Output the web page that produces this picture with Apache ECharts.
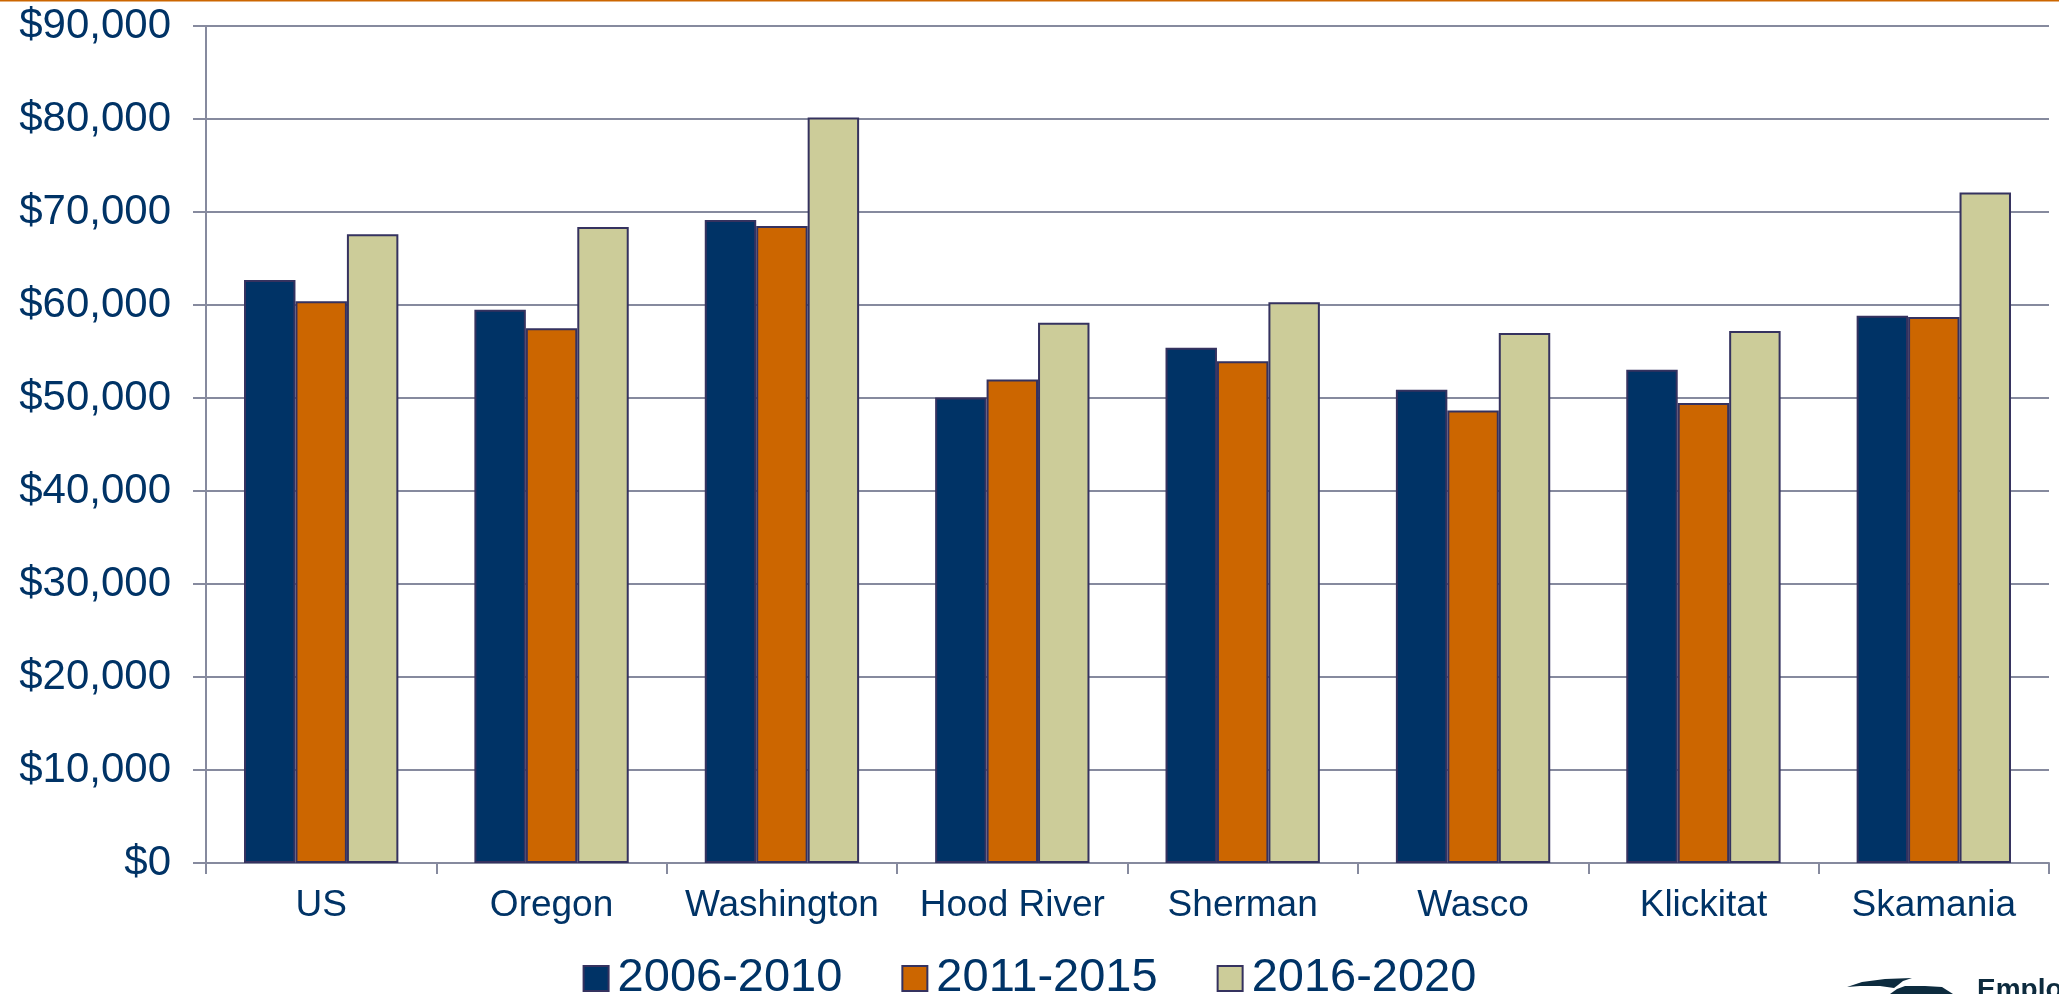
<!DOCTYPE html>
<html>
<head>
<meta charset="utf-8">
<script src="https://cdn.jsdelivr.net/npm/echarts@6/dist/echarts.min.js"></script>
<style>
  html, body { margin: 0; padding: 0; background: #ffffff; }
  #chart { width: 2059px; height: 994px; }
</style>
</head>
<body>
<div id="chart"></div>
<script>
const categories = ['US', 'Oregon', 'Washington', 'Hood River', 'Sherman', 'Wasco', 'Klickitat', 'Skamania'];
const seriesNames = ['2006-2010', '2011-2015', '2016-2020'];
const values2006_2010 = [62700, 59500, 69150, 50050, 55400, 50900, 53050, 58850];
const values2011_2015 = [60400, 57500, 68500, 52000, 53950, 48650, 49450, 58700];
const values2016_2020 = [67600, 68400, 80150, 58100, 60300, 57000, 57200, 72100];
const yTicks = { min: 0, max: 90000, interval: 10000 };

const colors = ['#003366', '#cc6600', '#cccc99'];
const textColor = '#003366';
const gridColor = '#868a9e';
const font = 'Liberation Sans, Arial, sans-serif';

const chart = echarts.init(document.getElementById('chart'));
const allValues = [values2006_2010, values2011_2015, values2016_2020];

chart.setOption({
  animation: false,
  backgroundColor: '#ffffff',
  grid: { left: 206, right: 10, top: 26, bottom: 131, containLabel: false },
  legend: {
    show: true,
    data: seriesNames,
    left: 'center',
    top: 950,
    itemWidth: 25,
    itemHeight: 25,
    itemGap: 59,
    icon: 'rect',
    textStyle: { color: textColor, fontSize: 47, fontFamily: font, padding: [0, 0, 0, 4] }
  },
  xAxis: {
    type: 'category',
    data: categories,
    boundaryGap: true,
    axisLine: { show: true, lineStyle: { color: gridColor, width: 2 } },
    axisTick: { show: true, length: 11, interval: 0, lineStyle: { color: gridColor, width: 2 } },
    axisLabel: { color: textColor, fontSize: 37, fontFamily: font, margin: 24, interval: 0 },
    splitLine: { show: false }
  },
  yAxis: {
    type: 'value',
    min: yTicks.min,
    max: yTicks.max,
    interval: yTicks.interval,
    axisLine: { show: true, lineStyle: { color: gridColor, width: 2 } },
    axisTick: { show: true, length: 13, lineStyle: { color: gridColor, width: 2 } },
    axisLabel: {
      color: textColor, fontSize: 42, fontFamily: font, margin: 35,
      formatter: v => '$' + v.toLocaleString('en-US')
    },
    splitLine: { show: true, lineStyle: { color: gridColor, width: 2 } }
  },
  series: seriesNames.map((name, i) => ({
    name: name,
    type: 'bar',
    data: allValues[i],
    barGap: '0%',
    barCategoryGap: '33%',
    itemStyle: { color: colors[i], borderColor: '#35325f', borderWidth: 2 }
  })),
  graphic: [
    { type: 'rect', left: 0, top: 0, shape: { width: 2059, height: 1.5 }, style: { fill: '#cc6600' }, silent: true },
    { type: 'polygon', shape: { points: [[1847,987],[1862,982],[1885,979],[1912,978],[1903,981],[1898,985],[1894,988],[1880,986],[1860,986]] }, style: { fill: '#0d2b3e' }, silent: true },
    { type: 'polygon', shape: { points: [[1890,994],[1897,989],[1905,986],[1925,986],[1942,987],[1953,994]] }, style: { fill: '#0d2b3e' }, silent: true },
    { type: 'text', left: 1977, top: 976, style: { text: 'Employment Department', fill: '#0d2b3e', font: 'bold 28px Liberation Sans, Arial, sans-serif' }, silent: true }
  ]
});
</script>
</body>
</html>
